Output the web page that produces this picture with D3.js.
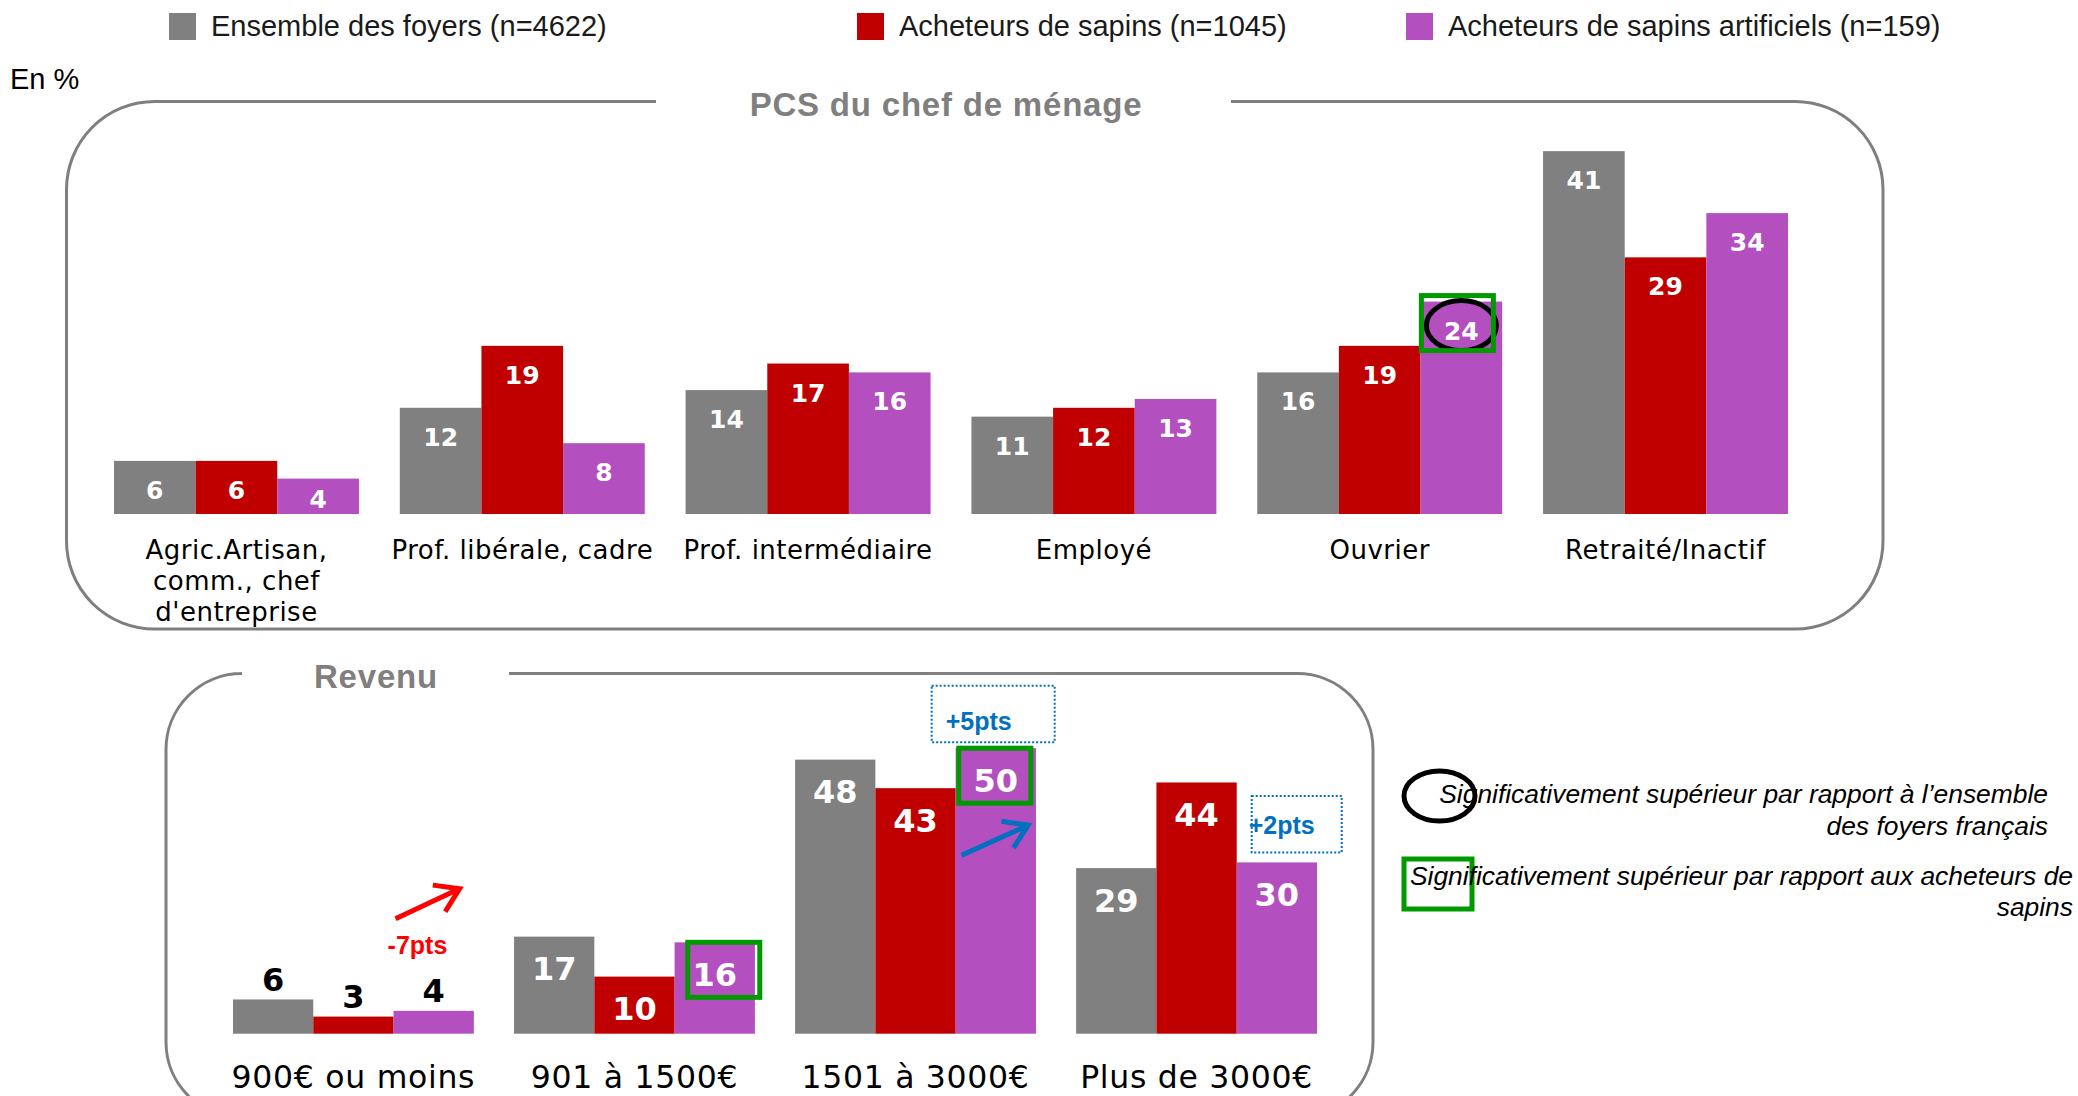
<!DOCTYPE html>
<html>
<head>
<meta charset="utf-8">
<script src="https://cdn.jsdelivr.net/npm/d3@7"></script>
<style>
  html, body { margin: 0; padding: 0; background: #ffffff; }
  svg { display: block; }
</style>
</head>
<body>
<svg id="chart" width="2078" height="1096"></svg>
<script>
// ---- Data -------------------------------------------------------------
const seriesNames = [
  "Ensemble des foyers (n=4622)",
  "Acheteurs de sapins (n=1045)",
  "Acheteurs de sapins artificiels (n=159)"
];

const pcsCategories = [
  "Agric.Artisan,\ncomm., chef\nd'entreprise",
  "Prof. libérale, cadre",
  "Prof. intermédiaire",
  "Employé",
  "Ouvrier",
  "Retraité/Inactif"
];
const pcsEnsemble    = [6, 12, 14, 11, 16, 41];
const pcsSapins      = [6, 19, 17, 12, 19, 29];
const pcsArtificiels = [4, 8, 16, 13, 24, 34];

const revenuCategories = ["900€ ou moins", "901 à 1500€", "1501 à 3000€", "Plus de 3000€"];
const revenuEnsemble    = [6, 17, 48, 29];
const revenuSapins      = [3, 10, 43, 44];
const revenuArtificiels = [4, 16, 50, 30];

// significance flags: [category index, series index]
const pcsSigVsEnsemble = [[4, 2]];
const pcsSigVsSapins   = [[4, 2]];
const revSigVsSapins   = [[1, 2], [2, 2]];

// evolution notes: [category index, text]
const revenuEvolutions = [[0, "-7pts"], [2, "+5pts"], [3, "+2pts"]];

const legendNotes = [
  ["Significativement supérieur par rapport à l’ensemble", "des foyers français"],
  ["Significativement supérieur par rapport aux acheteurs de", "sapins"]
];

// ---- Styles -----------------------------------------------------------
const colors = ["#808080", "#C00000", "#B34FBF"];
const frameColor = "#7F7F7F";
const green = "#009900";
const blue = "#0070C0";
const labelFont = "'DejaVu Sans', Verdana, sans-serif";
const textFont = "'Liberation Sans', Arial, sans-serif";

const svg = d3.select("#chart");

// ---- Legend -----------------------------------------------------------
const legendX = [169, 857, 1406];
const legend = svg.append("g").attr("class", "legend");
seriesNames.forEach((name, i) => {
  legend.append("rect")
    .attr("x", legendX[i]).attr("y", 13)
    .attr("width", 27).attr("height", 27)
    .attr("fill", colors[i]);
  legend.append("text")
    .attr("x", legendX[i] + 42).attr("y", 36)
    .attr("font-family", textFont).attr("font-size", 29)
    .attr("fill", "#1a1a1a")
    .text(name);
});

svg.append("text")
  .attr("x", 10).attr("y", 89)
  .attr("font-family", textFont).attr("font-size", 29)
  .attr("fill", "#000")
  .text("En %");

// ---- Panel frames -----------------------------------------------------
function frame(f) {
  const { x0, y0, x1, y1, r, gapL, gapR } = f;
  const p = `M${gapR},${y0} H${x1 - r} A${r},${r} 0 0 1 ${x1},${y0 + r} V${y1 - r}` +
            ` A${r},${r} 0 0 1 ${x1 - r},${y1} H${x0 + r} A${r},${r} 0 0 1 ${x0},${y1 - r}` +
            ` V${y0 + r} A${r},${r} 0 0 1 ${x0 + r},${y0} H${gapL}`;
  svg.append("path").attr("d", p)
    .attr("fill", "none").attr("stroke", frameColor).attr("stroke-width", 3);
  svg.append("text")
    .attr("x", f.titleX).attr("y", f.titleY)
    .attr("text-anchor", "middle")
    .attr("font-family", textFont).attr("font-weight", "bold")
    .attr("font-size", 33).attr("letter-spacing", 0.8)
    .attr("fill", frameColor)
    .text(f.title);
}

frame({ x0: 66.5, y0: 101.5, x1: 1883, y1: 629, r: 88, gapL: 656, gapR: 1231,
        title: "PCS du chef de ménage", titleX: 946, titleY: 116 });
frame({ x0: 166, y0: 673.5, x1: 1373, y1: 1118, r: 76, gapL: 241, gapR: 509,
        title: "Revenu", titleX: 376, titleY: 688 });

// ---- Grouped bar panels ----------------------------------------------
function drawPanel(cfg) {
  const g = svg.append("g");
  const x0 = d3.scaleBand().domain(cfg.categories.map((c, i) => i))
    .range(cfg.xRange).paddingInner(0.143).paddingOuter(0);
  const x1 = d3.scaleBand().domain([0, 1, 2]).range([0, x0.bandwidth()]);
  const y = d3.scaleLinear().domain([0, 50]).range([cfg.baseline, cfg.baseline - 50 * cfg.unit]);

  const rows = cfg.categories.map((c, i) => cfg.series.map((s, j) => ({ c: i, s: j, v: s[i] })));

  const groups = g.selectAll("g.grp").data(rows).join("g")
    .attr("class", "grp")
    .attr("transform", (d, i) => `translate(${x0(i)},0)`);

  groups.selectAll("rect").data(d => d).join("rect")
    .attr("x", d => x1(d.s))
    .attr("y", d => y(d.v))
    .attr("width", x1.bandwidth())
    .attr("height", d => cfg.baseline - y(d.v))
    .attr("fill", d => colors[d.s]);

  const labelPos = d => cfg.labelY(d, y);
  groups.selectAll("text.val").data(d => d).join("text")
    .attr("class", "val")
    .attr("x", d => x1(d.s) + x1.bandwidth() / 2)
    .attr("y", d => labelPos(d).y)
    .attr("dy", "0.36em")
    .attr("text-anchor", "middle")
    .attr("font-family", labelFont).attr("font-weight", "bold")
    .attr("font-size", cfg.valueSize)
    .attr("fill", d => labelPos(d).fill)
    .text(d => d.v);

  // category axis
  const axis = d3.axisBottom(x0).tickSize(0).tickFormat(i => cfg.categories[i]);
  const ax = g.append("g").attr("transform", `translate(0,${cfg.baseline})`).call(axis);
  ax.select(".domain").remove();
  ax.selectAll(".tick text").each(function (i) {
    const t = d3.select(this);
    const lines = cfg.categories[i].split("\n");
    t.text(null).attr("dy", null).attr("y", cfg.axisOffset)
      .attr("font-family", labelFont).attr("font-size", cfg.axisSize)
      .attr("letter-spacing", cfg.axisSpacing).attr("fill", "#000");
    lines.forEach((ln, k) => {
      const ts = t.append("tspan").attr("x", 0).text(ln);
      if (k > 0) ts.attr("dy", cfg.lineHeight);
    });
  });

  const center = (ci, s) => {
    const v = cfg.series[s][ci];
    return { x: x0(ci) + x1(s) + x1.bandwidth() / 2, y: labelPos({ v }).y, top: y(v),
             left: x0(ci) + x1(s), width: x1.bandwidth() };
  };
  return { center, y, x0, x1 };
}

const pcs = drawPanel({
  categories: pcsCategories,
  series: [pcsEnsemble, pcsSapins, pcsArtificiels],
  xRange: [114, 1788], baseline: 514, unit: 8.85,
  valueSize: 25, axisSize: 26, axisSpacing: 0.5, axisOffset: 45, lineHeight: 31,
  labelY: (d, y) => ({ y: Math.min(y(d.v) + 29, 514 - 15), fill: "#fff" })
});

const rev = drawPanel({
  categories: revenuCategories,
  series: [revenuEnsemble, revenuSapins, revenuArtificiels],
  xRange: [233, 1317], baseline: 1033.7, unit: 5.71,
  valueSize: 32, axisSize: 31.5, axisSpacing: 0.7, axisOffset: 54, lineHeight: 36,
  labelY: (d, y) => d.v < 8 ? { y: y(d.v) - 20, fill: "#000" } : { y: y(d.v) + 32, fill: "#fff" }
});

// ---- Significance markers -------------------------------------------
function sigCircle(c) {
  svg.append("ellipse")
    .attr("cx", c.x).attr("cy", c.y - 5)
    .attr("rx", 35).attr("ry", 25)
    .attr("fill", "none").attr("stroke", "#000").attr("stroke-width", 5);
}
function sigSquare(c, dx, dy) {
  svg.append("rect")
    .attr("x", c.x - 36 + dx).attr("y", c.y - 32 + dy)
    .attr("width", 72).attr("height", 55)
    .attr("fill", "none").attr("stroke", green).attr("stroke-width", 5);
}
pcsSigVsEnsemble.forEach(([ci, s]) => sigCircle(pcs.center(ci, s)));
pcsSigVsSapins.forEach(([ci, s]) => sigSquare(pcs.center(ci, s), -4, -3));
revSigVsSapins.forEach(([ci, s], k) => sigSquare(rev.center(ci, s), k === 0 ? 9 : -1, 0));

// ---- Evolution notes ------------------------------------------------
function arrow(x1, y1, x2, y2, color) {
  const a = Math.atan2(y2 - y1, x2 - x1);
  const L = 27, w = Math.PI / 5.5;
  const g = svg.append("g").attr("stroke", color).attr("stroke-width", 5)
    .attr("fill", "none").attr("stroke-linecap", "butt").attr("stroke-linejoin", "miter");
  g.append("line").attr("x1", x1).attr("y1", y1).attr("x2", x2 - 2 * Math.cos(a)).attr("y2", y2 - 2 * Math.sin(a));
  g.append("polyline").attr("points", [
    [x2 - L * Math.cos(a - w), y2 - L * Math.sin(a - w)],
    [x2, y2],
    [x2 - L * Math.cos(a + w), y2 - L * Math.sin(a + w)]
  ].map(p => p.join(",")).join(" "));
}
function note(x, y, text, color) {
  svg.append("text").attr("x", x).attr("y", y)
    .attr("font-family", textFont).attr("font-weight", "bold")
    .attr("font-size", 25).attr("fill", color).text(text);
}
function dottedBox(x, y, w, h) {
  svg.append("rect").attr("x", x).attr("y", y).attr("width", w).attr("height", h)
    .attr("fill", "none").attr("stroke", blue).attr("stroke-width", 2)
    .attr("stroke-dasharray", "2,2");
}

revenuEvolutions.forEach(([ci, txt]) => {
  const c = rev.center(ci, 2);
  if (ci === 0) {
    arrow(c.left + 2, rev.y(0) - 115, c.left + 66, rev.y(0) - 145, "#FF0000");
    note(c.left - 6, rev.y(0) - 80, txt, "#FF0000");
  } else if (ci === 2) {
    dottedBox(c.left - 24, c.top - 62.5, 123, 56.5);
    note(c.left - 10, c.top - 18, txt, blue);
    arrow(c.left + 6, c.top + 107, c.left + 72.5, c.top + 77, blue);
  } else {
    dottedBox(c.left + 15, c.top - 66.5, 90, 56.5);
    note(c.left + 12, c.top - 28, txt, blue);
  }
});

// ---- Significance key -----------------------------------------------
const key = svg.append("g");
key.append("ellipse").attr("cx", 1439.5).attr("cy", 796)
  .attr("rx", 35.5).attr("ry", 25).attr("fill", "none")
  .attr("stroke", "#000").attr("stroke-width", 5);
key.append("rect").attr("x", 1404).attr("y", 859).attr("width", 68).attr("height", 50)
  .attr("fill", "none").attr("stroke", green).attr("stroke-width", 5);

const keyLayout = [{ right: 2048, ys: [803, 835] }, { right: 2073, ys: [885, 916] }];
legendNotes.forEach((lines, i) => {
  lines.forEach((ln, k) => {
    key.append("text")
      .attr("x", keyLayout[i].right).attr("y", keyLayout[i].ys[k])
      .attr("text-anchor", "end")
      .attr("font-family", textFont).attr("font-style", "italic")
      .attr("font-size", 26.4).attr("fill", "#000")
      .text(ln);
  });
});
</script>
</body>
</html>
